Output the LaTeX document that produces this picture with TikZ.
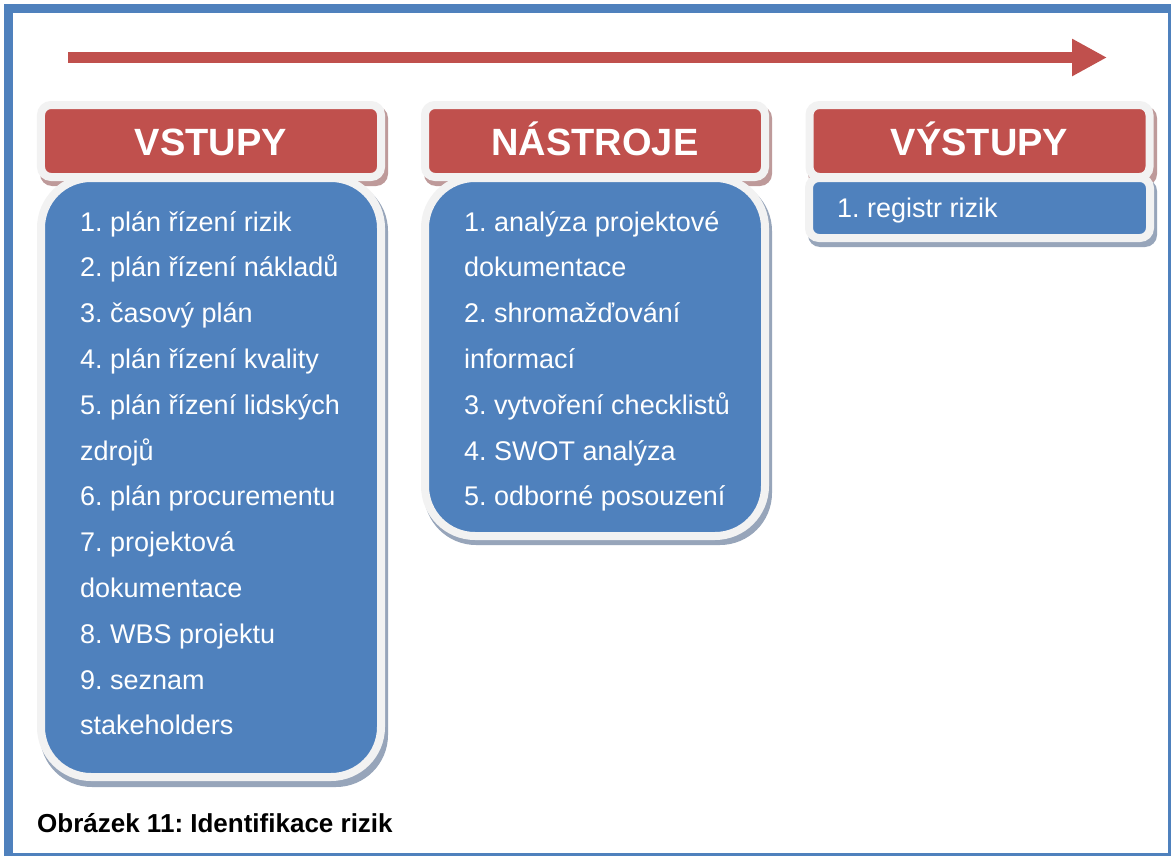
\documentclass[tikz,border=0pt]{standalone}
\usepackage{fontspec}
\setmainfont{Liberation Sans}
\usepackage{tikz}
\usetikzlibrary{arrows.meta}
\definecolor{cervena}{HTML}{C0504D}
\definecolor{modra}{HTML}{4F81BD}
\definecolor{okraj}{HTML}{F2F2F2}
\definecolor{stincerv}{HTML}{BE9A9A}
\definecolor{stinmod}{HTML}{97A5BA}
\frenchspacing

\begin{document}
\begin{tikzpicture}[x=1bp, y=-1bp,
  hlavicka/.style={fill=cervena, draw=okraj, line width=8bp, rounded corners=10bp,
    minimum width=340bp, minimum height=72bp, inner sep=0pt, text height=28bp, text depth=0pt,
    text=white, font=\fontsize{38bp}{44bp}\selectfont\bfseries},
  telo/.style={fill=modra, draw=okraj, line width=8bp},
  polozka/.style={anchor=base west, inner sep=0pt, text=white, font=\fontsize{27bp}{32bp}\selectfont}]
\useasboundingbox (0,0) rectangle (1171,856);
\fill[modra] (4,4) rectangle (1171,856);
\fill[white] (13,13) rectangle (1168,853);
\coordinate (zacatek) at (68,57.5);
\coordinate (konec) at (1107,57.5);
\draw[cervena, line width=11bp, -{Triangle[length=35bp, width=35bp]}] (zacatek) -- (konec);

\fill[stincerv, rounded corners=12bp] (40,106) rectangle (388,186);
\fill[stinmod, rounded corners=52bp] (40,179) rectangle (388,787);
\draw[telo, rounded corners=50bp] (41,178) rectangle (381,777);
\node[hlavicka] (vstupy) at (211,141) {VSTUPY};

\fill[stincerv, rounded corners=12bp] (424,106) rectangle (772,186);
\fill[stinmod, rounded corners=52bp] (424,179) rectangle (772,545);
\draw[telo, rounded corners=50bp] (425,178) rectangle (765,536);
\node[hlavicka] (nastroje) at (595,141) {NÁSTROJE};

\fill[stincerv, rounded corners=12bp] (808,106) rectangle (1157,186);
\fill[stinmod, rounded corners=12bp] (808,179) rectangle (1157,247);
\draw[telo, rounded corners=10bp] (809,178) rectangle (1150,238);
\node[hlavicka] (vystupy) at (979.5,141) {VÝSTUPY};

\node[polozka] (v1) at (80,231) {1. plán řízení rizik};
\node[polozka] (v2) at (80,276.8) {2. plán řízení nákladů};
\node[polozka] (v3) at (80,322.6) {3. časový plán};
\node[polozka] (v4) at (80,368.4) {4. plán řízení kvality};
\node[polozka] (v5) at (80,414.2) {5. plán řízení lidských};
\node[polozka] (v5b) at (80,460) {zdrojů};
\node[polozka] (v6) at (80,505.8) {6. plán procurementu};
\node[polozka] (v7) at (80,551.6) {7. projektová};
\node[polozka] (v7b) at (80,597.4) {dokumentace};
\node[polozka] (v8) at (80,643.2) {8. WBS projektu};
\node[polozka] (v9) at (80,689) {9. seznam};
\node[polozka] (v9b) at (80,734.8) {stakeholders};

\node[polozka] (n1) at (464,231) {1. analýza projektové};
\node[polozka] (n1b) at (464,276.8) {dokumentace};
\node[polozka] (n2) at (464,322.6) {2. shromažďování};
\node[polozka] (n2b) at (464,368.4) {informací};
\node[polozka] (n3) at (464,414.2) {3. vytvoření checklistů};
\node[polozka] (n4) at (464,460) {4. SWOT analýza};
\node[polozka] (n5) at (464,505.8) {5. odborné posouzení};

\node[polozka] (r1) at (837,217) {1. registr rizik};

\node[anchor=base west, inner sep=0pt, font=\fontsize{26bp}{30bp}\selectfont\bfseries] (popisek) at (37,832) {Obrázek 11: Identifikace rizik};
\end{tikzpicture}
\end{document}
